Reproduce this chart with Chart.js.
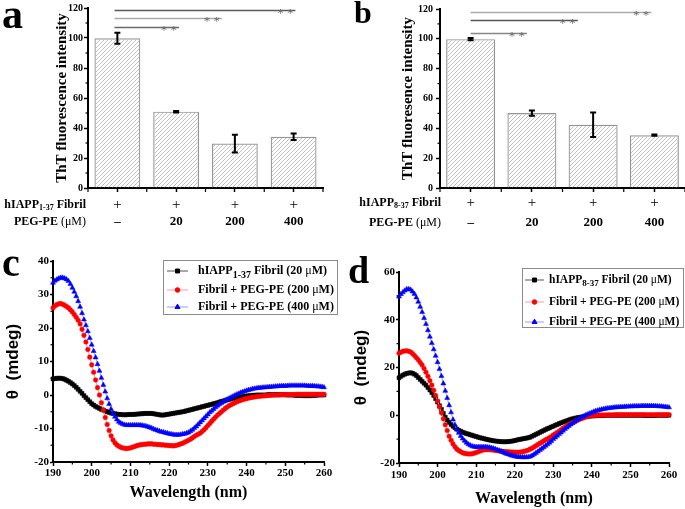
<!DOCTYPE html>
<html>
<head>
<meta charset="utf-8">
<script src="https://cdn.jsdelivr.net/npm/chart.js@4.4.0/dist/chart.umd.min.js"></script>
<style>
	body { margin: 0; background: #fff; }
	#fig { position: relative; width: 685px; height: 509px; overflow: hidden; }
	canvas { position: absolute; }
	.lbl { position: absolute; font-family: 'Liberation Serif', serif; font-weight: bold; line-height: 1; color: #000; }
</style>
</head>
<body>
<div id="fig">
	<canvas id="ca" width="340" height="235" style="left:0;top:0;width:340px;height:235px"></canvas>
	<canvas id="cb" width="345" height="235" style="left:340px;top:0;width:345px;height:235px"></canvas>
	<canvas id="cc" width="340" height="274" style="left:0;top:235px;width:340px;height:274px"></canvas>
	<canvas id="cd" width="345" height="274" style="left:340px;top:235px;width:345px;height:274px"></canvas>
	<div class="lbl" style="left:2px;top:-7px;font-size:42px">a</div>
	<div class="lbl" style="left:354px;top:-4px;font-size:32px">b</div>
	<div class="lbl" style="left:2px;top:243px;font-size:40px">c</div>
	<div class="lbl" style="left:348px;top:251px;font-size:38px">d</div>
</div>
<script>
(() => {
	'use strict'

	const SERIF = "'Liberation Serif', 'Times New Roman', serif"
	const SANS = "'Liberation Sans', Arial, sans-serif"

	// Bar panels (ThT)
	const pegLabels = ['–', '20', '200', '400']
	const fibrilRow = ['+', '+', '+', '+']
	const aValues = [99.8, 50.9, 29.6, 34.2]
	const aErrors = [3.7, 0.5, 5.9, 2.2]
	const bValues = [99.8, 50.2, 42.4, 35.4]
	const bErrors = [0.8, 1.7, 8.2, 0.4]
	// significance brackets: level, from category, to category
	const aSig = [[118.7, -0.05, 3.03], [113.3, -0.05, 1.78], [107.3, -0.05, 1.05]]
	const bSig = [[118.0, 0, 2.95], [112.7, 0, 1.75], [104.1, 0, 0.92]]

	// CD panels, 0.5 nm steps
	const wavelengths = [
		190, 190.5, 191, 191.5, 192, 192.5, 193, 193.5, 194, 194.5,
		195, 195.5, 196, 196.5, 197, 197.5, 198, 198.5, 199, 199.5,
		200, 200.5, 201, 201.5, 202, 202.5, 203, 203.5, 204, 204.5,
		205, 205.5, 206, 206.5, 207, 207.5, 208, 208.5, 209, 209.5,
		210, 210.5, 211, 211.5, 212, 212.5, 213, 213.5, 214, 214.5,
		215, 215.5, 216, 216.5, 217, 217.5, 218, 218.5, 219, 219.5,
		220, 220.5, 221, 221.5, 222, 222.5, 223, 223.5, 224, 224.5,
		225, 225.5, 226, 226.5, 227, 227.5, 228, 228.5, 229, 229.5,
		230, 230.5, 231, 231.5, 232, 232.5, 233, 233.5, 234, 234.5,
		235, 235.5, 236, 236.5, 237, 237.5, 238, 238.5, 239, 239.5,
		240, 240.5, 241, 241.5, 242, 242.5, 243, 243.5, 244, 244.5,
		245, 245.5, 246, 246.5, 247, 247.5, 248, 248.5, 249, 249.5,
		250, 250.5, 251, 251.5, 252, 252.5, 253, 253.5, 254, 254.5,
		255, 255.5, 256, 256.5, 257, 257.5, 258, 258.5, 259, 259.5,
		260]
	const cBlack = [
		4.8, 4.9, 5.0, 5.0, 5.0, 4.9, 4.7, 4.4, 4.1, 3.7,
		3.3, 2.8, 2.3, 1.7, 1.1, 0.5, -0.2, -0.8, -1.4, -2.0,
		-2.6, -3.0, -3.4, -3.7, -4.0, -4.3, -4.5, -4.8, -5.0, -5.2,
		-5.4, -5.5, -5.6, -5.7, -5.8, -5.8, -5.9, -5.9, -5.9, -5.8,
		-5.8, -5.8, -5.8, -5.7, -5.7, -5.6, -5.6, -5.5, -5.5, -5.5,
		-5.5, -5.5, -5.6, -5.7, -5.8, -5.9, -6.0, -6.0, -5.9, -5.8,
		-5.7, -5.6, -5.5, -5.4, -5.3, -5.2, -5.1, -5.0, -4.9, -4.7,
		-4.6, -4.4, -4.3, -4.1, -4.0, -3.8, -3.7, -3.5, -3.4, -3.2,
		-3.1, -2.9, -2.8, -2.6, -2.5, -2.3, -2.1, -1.9, -1.8, -1.6,
		-1.5, -1.3, -1.2, -1.0, -0.9, -0.8, -0.7, -0.6, -0.5, -0.4,
		-0.3, -0.2, -0.2, -0.1, -0.1, 0.0, 0.0, 0.0, 0.0, 0.0,
		0.0, 0.1, 0.1, 0.1, 0.1, 0.1, 0.1, 0.1, 0.1, 0.1,
		0.1, 0.0, 0.0, 0.0, 0.0, -0.1, -0.1, -0.1, -0.1, -0.2,
		-0.2, -0.2, -0.2, -0.2, -0.1, -0.1, -0.1, 0.0, 0.0, 0.0,
		0.0]
	const cRed = [
		26.0, 26.6, 27.0, 27.2, 27.3, 27.1, 26.8, 26.4, 26.0, 25.4,
		24.8, 24.0, 23.2, 22.3, 21.2, 19.6, 17.8, 15.8, 13.6, 11.3,
		9.0, 6.8, 4.5, 2.2, 0.0, -2.3, -4.5, -6.7, -8.8, -10.6,
		-12.2, -13.4, -14.3, -14.9, -15.3, -15.6, -15.8, -15.9, -16.0, -15.9,
		-15.8, -15.6, -15.4, -15.2, -15.0, -14.9, -14.8, -14.7, -14.7, -14.6,
		-14.6, -14.6, -14.7, -14.7, -14.8, -14.8, -14.9, -14.9, -15.0, -15.0,
		-15.1, -15.1, -15.2, -15.1, -15.0, -14.8, -14.6, -14.4, -14.1, -13.8,
		-13.5, -13.2, -12.8, -12.4, -12.0, -11.7, -11.4, -10.9, -10.4, -9.8,
		-9.1, -8.5, -7.8, -7.2, -6.6, -6.0, -5.5, -5.0, -4.5, -4.0,
		-3.6, -3.2, -2.9, -2.6, -2.3, -2.0, -1.8, -1.6, -1.4, -1.2,
		-1.1, -0.9, -0.8, -0.7, -0.6, -0.5, -0.4, -0.35, -0.3, -0.25,
		-0.2, -0.15, -0.1, -0.05, 0.0, 0.0, 0.0, 0.05, 0.1, 0.1,
		0.1, 0.1, 0.1, 0.1, 0.1, 0.15, 0.2, 0.2, 0.2, 0.2,
		0.2, 0.2, 0.2, 0.2, 0.2, 0.2, 0.2, 0.2, 0.2, 0.2,
		0.2]
	const cBlue = [
		33.5, 34.1, 34.5, 34.8, 35.0, 35.0, 34.8, 34.5, 34.0, 33.1,
		32.0, 30.8, 29.5, 28.0, 26.3, 24.4, 22.5, 20.8, 19.0, 17.0,
		15.0, 13.1, 11.2, 9.2, 7.2, 5.1, 3.0, 1.0, -1.0, -2.7,
		-4.2, -5.5, -6.5, -7.3, -8.0, -8.4, -8.7, -8.9, -9.0, -9.0,
		-9.0, -9.0, -9.0, -9.0, -9.0, -9.0, -9.1, -9.2, -9.3, -9.5,
		-9.7, -9.9, -10.2, -10.4, -10.6, -10.8, -11.0, -11.1, -11.3, -11.4,
		-11.6, -11.7, -11.8, -11.9, -11.9, -11.9, -11.8, -11.7, -11.6, -11.4,
		-11.2, -10.8, -10.4, -9.9, -9.4, -8.8, -8.2, -7.6, -7.0, -6.4,
		-5.8, -5.2, -4.7, -4.2, -3.7, -3.2, -2.8, -2.4, -2.0, -1.6,
		-1.3, -1.0, -0.7, -0.4, -0.1, 0.2, 0.4, 0.7, 0.9, 1.1,
		1.3, 1.5, 1.6, 1.8, 1.9, 2.0, 2.1, 2.15, 2.2, 2.25,
		2.3, 2.35, 2.4, 2.45, 2.5, 2.55, 2.6, 2.65, 2.7, 2.7,
		2.7, 2.75, 2.8, 2.8, 2.8, 2.8, 2.8, 2.8, 2.8, 2.8,
		2.8, 2.75, 2.7, 2.7, 2.7, 2.65, 2.6, 2.55, 2.5, 2.4,
		2.3]
	const dBlack = [
		15.7, 16.3, 16.8, 17.2, 17.5, 17.7, 17.8, 17.6, 17.2, 16.6,
		15.8, 15.0, 14.2, 13.4, 12.6, 11.6, 10.6, 9.5, 8.3, 6.9,
		5.5, 4.0, 2.5, 0.8, -0.8, -2.0, -3.0, -3.9, -4.6, -5.2,
		-5.8, -6.3, -6.7, -7.1, -7.4, -7.7, -7.9, -8.2, -8.4, -8.7,
		-8.9, -9.2, -9.4, -9.6, -9.8, -10.0, -10.2, -10.4, -10.5, -10.7,
		-10.8, -10.9, -11.0, -11.05, -11.1, -11.1, -11.1, -11.0, -10.9, -10.8,
		-10.6, -10.4, -10.2, -10.05, -9.9, -9.75, -9.6, -9.4, -9.2, -8.8,
		-8.4, -8.0, -7.6, -7.2, -6.8, -6.4, -6.0, -5.6, -5.3, -4.9,
		-4.6, -4.2, -3.9, -3.5, -3.2, -2.9, -2.6, -2.3, -2.0, -1.7,
		-1.5, -1.3, -1.1, -0.95, -0.8, -0.7, -0.6, -0.5, -0.4, -0.35,
		-0.3, -0.25, -0.2, -0.15, -0.1, -0.1, -0.1, -0.05, 0.0, 0.0,
		0.0, 0.0, 0.0, 0.0, 0.0, 0.0, 0.0, 0.0, 0.0, 0.0,
		0.0, 0.0, 0.0, 0.0, 0.0, 0.0, 0.0, -0.05, -0.1, -0.1,
		-0.1, -0.1, -0.1, -0.05, 0.0, 0.0, 0.0, 0.0, 0.0, 0.0,
		0.0]
	const dRed = [
		26.0, 26.4, 26.8, 26.9, 27.0, 26.8, 26.5, 25.8, 25.0, 24.1,
		23.2, 22.1, 21.0, 19.6, 18.0, 16.3, 14.5, 12.6, 10.5, 8.3,
		6.0, 3.5, 1.0, -1.5, -4.0, -6.4, -8.8, -10.5, -12.0, -13.2,
		-14.2, -14.8, -15.3, -15.7, -16.0, -16.1, -16.2, -16.2, -16.1, -15.9,
		-15.6, -15.3, -15.0, -14.7, -14.5, -14.4, -14.4, -14.4, -14.5, -14.6,
		-14.7, -14.85, -15.0, -15.1, -15.2, -15.25, -15.3, -15.35, -15.4, -15.45,
		-15.5, -15.5, -15.5, -15.4, -15.3, -15.1, -14.9, -14.6, -14.2, -13.8,
		-13.3, -12.8, -12.3, -11.8, -11.3, -10.8, -10.3, -9.9, -9.4, -8.9,
		-8.3, -7.8, -7.2, -6.7, -6.1, -5.5, -5.0, -4.5, -4.0, -3.5,
		-3.1, -2.7, -2.3, -1.9, -1.6, -1.3, -1.0, -0.7, -0.5, -0.35,
		-0.2, -0.1, 0.0, 0.05, 0.1, 0.1, 0.1, 0.1, 0.1, 0.1,
		0.1, 0.1, 0.15, 0.2, 0.2, 0.2, 0.2, 0.2, 0.2, 0.2,
		0.2, 0.2, 0.2, 0.2, 0.2, 0.2, 0.2, 0.2, 0.2, 0.2,
		0.2, 0.2, 0.2, 0.2, 0.2, 0.2, 0.2, 0.2, 0.2, 0.2,
		0.2]
	const dBlue = [
		49.7, 50.7, 51.5, 52.2, 52.8, 52.8, 52.6, 51.8, 50.8, 49.3,
		47.5, 45.4, 43.2, 40.7, 38.2, 35.6, 32.9, 30.2, 27.6, 24.9,
		22.2, 19.3, 16.4, 13.3, 10.2, 7.2, 4.2, 1.2, -1.8, -4.0,
		-6.0, -7.4, -8.7, -9.8, -10.7, -11.5, -12.2, -12.6, -13.0, -13.2,
		-13.3, -13.3, -13.3, -13.3, -13.3, -13.3, -13.4, -13.5, -13.7, -13.9,
		-14.2, -14.5, -14.8, -15.1, -15.5, -15.9, -16.2, -16.5, -16.8, -17.0,
		-17.2, -17.4, -17.5, -17.55, -17.6, -17.6, -17.6, -17.5, -17.3, -16.9,
		-16.4, -15.8, -15.2, -14.6, -14.0, -13.4, -12.8, -12.2, -11.5, -10.8,
		-10.0, -9.3, -8.6, -7.9, -7.2, -6.5, -5.8, -5.2, -4.5, -3.9,
		-3.3, -2.7, -2.2, -1.7, -1.2, -0.7, -0.3, 0.1, 0.5, 0.8,
		1.1, 1.5, 1.8, 2.0, 2.2, 2.4, 2.6, 2.75, 2.9, 3.0,
		3.1, 3.2, 3.3, 3.35, 3.4, 3.45, 3.5, 3.55, 3.6, 3.65,
		3.7, 3.75, 3.8, 3.8, 3.8, 3.85, 3.9, 3.9, 3.9, 3.9,
		3.9, 3.9, 3.9, 3.85, 3.8, 3.75, 3.7, 3.6, 3.5, 3.4,
		3.3]

	// ---- helpers ----
	// parts: [text, kind] kind 0 bold, 1 bold subscript, 2 regular
	function partFont(kind, size, sub) {
		const f = kind === 1 ? Math.round(size * sub) : size
		return (kind === 2 ? '' : 'bold ') + f + 'px ' + SERIF
	}
	function richWidth(ctx, parts, size, sub) {
		let w = 0
		parts.forEach(([t, k]) => { ctx.font = partFont(k, size, sub); w += ctx.measureText(t).width })
		return w
	}
	function drawRich(ctx, parts, x, y, size, sub, drop) {
		parts.forEach(([t, k]) => {
			ctx.font = partFont(k, size, sub)
			ctx.fillText(t, x, y + (k === 1 ? drop : 0))
			x += ctx.measureText(t).width
		})
	}
	function steps(from, to, step) {
		const out = []
		for (let v = from; v <= to + 1e-9; v += step) out.push(v)
		return out
	}

	const minorTicks = {
		id: 'minorTicks',
		afterDraw(chart, args, opts) {
			const ctx = chart.ctx
			ctx.save()
			ctx.strokeStyle = '#000'
			ctx.lineWidth = 1.2
			Object.keys(opts.at || {}).forEach(id => {
				const s = chart.scales[id]
				const len = opts.len[id]
				opts.at[id].forEach(v => {
					const p = s.getPixelForValue(v)
					ctx.beginPath()
					if (s.isHorizontal()) { ctx.moveTo(p, s.top); ctx.lineTo(p, s.top + len) }
					else { ctx.moveTo(s.right, p); ctx.lineTo(s.right - len, p) }
					ctx.stroke()
				})
			})
			ctx.restore()
		}
	}

	const errorBars = {
		id: 'errorBars',
		afterDatasetsDraw(chart) {
			const ctx = chart.ctx
			const y = chart.scales.y
			ctx.save()
			ctx.strokeStyle = '#000'
			ctx.lineWidth = 2
			chart.data.datasets.forEach((ds, di) => {
				if (!ds.errors) return
				chart.getDatasetMeta(di).data.forEach((bar, i) => {
					const hi = y.getPixelForValue(ds.data[i] + ds.errors[i])
					const lo = y.getPixelForValue(ds.data[i] - ds.errors[i])
					ctx.beginPath()
					ctx.moveTo(bar.x, hi); ctx.lineTo(bar.x, lo)
					ctx.moveTo(bar.x - 3, hi); ctx.lineTo(bar.x + 3, hi)
					ctx.moveTo(bar.x - 3, lo); ctx.lineTo(bar.x + 3, lo)
					ctx.stroke()
				})
			})
			ctx.restore()
		}
	}

	const sigLines = {
		id: 'sigLines',
		afterDraw(chart, args, opts) {
			const ctx = chart.ctx
			const {x, y} = chart.scales
			ctx.save()
			ctx.lineWidth = 1.3
			ctx.font = '13px ' + SERIF
			ctx.textAlign = 'right'
			ctx.textBaseline = 'alphabetic'
			opts.lines.forEach(([lvl, x0, x1], i) => {
				const py = Math.round(y.getPixelForValue(lvl)) + 0.5
				const p1 = x.getPixelForValue(x1)
				ctx.strokeStyle = opts.colors[i]
				ctx.beginPath()
				ctx.moveTo(x.getPixelForValue(x0), py)
				ctx.lineTo(p1, py)
				ctx.stroke()
				ctx.fillStyle = '#6a6a6a'
				ctx.fillText('* *', p1 - 2, py + 6)
			})
			ctx.restore()
		}
	}

	const rowText = {
		id: 'rowText',
		afterDraw(chart, args, opts) {
			const ctx = chart.ctx
			const x = chart.scales.x
			ctx.save()
			ctx.fillStyle = '#000'
			ctx.textBaseline = 'middle'
			opts.rows.forEach(row => {
				ctx.textAlign = 'left'
				const w = richWidth(ctx, row.parts, 12, 0.7)
				drawRich(ctx, row.parts, opts.right - w, row.y, 12, 0.7, 3)
				ctx.textAlign = 'center'
				row.cells.forEach((c, i) => {
					ctx.font = c === '+' ? '15px ' + SERIF : 'bold 13px ' + SERIF
					ctx.fillText(c, x.getPixelForValue(i), row.y)
				})
			})
			ctx.restore()
		}
	}

	const boxLegend = {
		id: 'boxLegend',
		afterDraw(chart, args, opts) {
			const ctx = chart.ctx
			const b = opts.box
			ctx.save()
			ctx.strokeStyle = '#8a8a8a'
			ctx.lineWidth = 1
			ctx.strokeRect(b[0] + 0.5, b[1] + 0.5, b[2] - b[0], b[3] - b[1])
			ctx.textBaseline = 'middle'
			ctx.textAlign = 'left'
			chart.data.datasets.forEach((ds, i) => {
				const ey = opts.rows[i]
				ctx.strokeStyle = ds.borderColor
				ctx.lineWidth = 1
				ctx.beginPath()
				ctx.moveTo(opts.line[0], ey); ctx.lineTo(opts.line[1], ey)
				ctx.stroke()
				ctx.fillStyle = ds.pointBackgroundColor
				ctx.strokeStyle = ds.pointBackgroundColor
				Chart.helpers.drawPoint(ctx, {pointStyle: ds.pointStyle, radius: ds.pointRadius, rotation: 0, borderWidth: 0.5}, (opts.line[0] + opts.line[1]) / 2, ey)
				ctx.fillStyle = '#000'
				drawRich(ctx, ds.parts, opts.textX, ey, opts.size, 0.8, 4)
			})
			ctx.restore()
		}
	}

	function hatch(canvas) {
		const c = document.createElement('canvas')
		c.width = 4
		c.height = 4
		const g = c.getContext('2d')
		g.strokeStyle = '#c2c2c2'
		g.lineWidth = 1
		g.beginPath()
		g.moveTo(0, 4); g.lineTo(4, 0)
		g.moveTo(-1, 1); g.lineTo(1, -1)
		g.moveTo(3, 5); g.lineTo(5, 3)
		g.stroke()
		return canvas.getContext('2d').createPattern(c, 'repeat')
	}

	function barChart(id, values, errors, sig, sigColors, yTitle, lay, fibrilParts) {
		const el = document.getElementById(id)
		return new Chart(el, {
			type: 'bar',
			data: {
				labels: pegLabels,
				datasets: [{
					data: values,
					errors: errors,
					backgroundColor: hatch(el),
					borderColor: '#959595',
					borderWidth: 1.2,
					barPercentage: lay.barPct,
					categoryPercentage: 1
				}]
			},
			options: {
				responsive: false,
				animation: false,
				devicePixelRatio: 1,
				layout: { padding: { top: lay.top, right: lay.right, left: 0, bottom: 0 } },
				plugins: {
					legend: { display: false },
					tooltip: { enabled: false },
					minorTicks: {
						at: { x: [-0.5, 0.5, 1.5, 2.5, 3.5], y: steps(10, 110, 20) },
						len: { x: 4, y: 2.5 }
					},
					sigLines: { lines: sig, colors: sigColors },
					rowText: {
						right: lay.rowRight,
						rows: [
							{ parts: fibrilParts, y: lay.rowY[0], cells: fibrilRow },
							{ parts: [['PEG-PE ', 0], ['(μM)', 2]], y: lay.rowY[1], cells: pegLabels }
						]
					}
				},
				scales: {
					x: {
						grid: { drawOnChartArea: false, offset: false, tickLength: 4, tickWidth: 1.5, tickColor: '#000' },
						border: { color: '#000', width: 2 },
						ticks: { display: false },
						afterFit: s => { s.height = lay.xH }
					},
					y: {
						min: 0,
						max: 120,
						ticks: { stepSize: 20, color: '#000', padding: lay.tickPad, font: { family: SERIF, size: 10, weight: 'bold' } },
						grid: { drawOnChartArea: false, tickLength: 4, tickWidth: 1.5, tickColor: '#000' },
						border: { color: '#000', width: 2 },
						title: { display: true, text: yTitle, color: '#000', padding: { top: lay.titlePad, bottom: 0 }, font: { family: SERIF, size: 15, weight: 'bold' } },
						afterFit: s => { s.width = lay.yW }
					}
				}
			},
			plugins: [minorTicks, errorBars, sigLines, rowText]
		})
	}

	function series(vals, color, line, style, r, parts, order) {
		return {
			label: parts.map(p => p[0]).join(''),
			parts: parts,
			data: wavelengths.map((w, i) => ({ x: w, y: vals[i] })),
			borderColor: line,
			borderWidth: 1,
			pointStyle: style,
			pointRadius: r,
			pointBackgroundColor: color,
			pointBorderColor: color,
			pointBorderWidth: 0.5,
			clip: false,
			order: order
		}
	}

	function cdChart(id, sets, yMin, yMax, yStep, lay) {
		return new Chart(document.getElementById(id), {
			type: 'line',
			data: { datasets: sets },
			options: {
				responsive: false,
				animation: false,
				devicePixelRatio: 1,
				layout: { padding: { top: lay.top, right: lay.right, left: 0, bottom: 0 } },
				plugins: {
					legend: { display: false },
					tooltip: { enabled: false },
					minorTicks: {
						at: { x: steps(195, 255, 10), y: steps(yMin + yStep / 2, yMax, yStep) },
						len: { x: 2.5, y: 2.5 }
					},
					boxLegend: lay.legend
				},
				scales: {
					x: {
						type: 'linear',
						min: 190,
						max: 260,
						ticks: { stepSize: 10, color: '#000', padding: lay.xPad, font: { family: SERIF, size: 11, weight: 'bold' } },
						grid: { drawOnChartArea: false, tickLength: 4, tickWidth: 1.5, tickColor: '#000' },
						border: { color: '#000', width: 2 },
						title: { display: true, text: 'Wavelength (nm)', color: '#000', padding: { top: 0, bottom: lay.xTitlePad }, font: { family: SERIF, size: 16, weight: 'bold' } },
						afterFit: s => { s.height = lay.xH }
					},
					y: {
						min: yMin,
						max: yMax,
						ticks: { stepSize: yStep, color: '#000', padding: 1, font: { family: SERIF, size: 11, weight: 'bold' } },
						grid: { drawOnChartArea: false, tickLength: 3, tickWidth: 1.5, tickColor: '#000' },
						border: { color: '#000', width: 2 },
						title: { display: true, text: 'θ  (mdeg)', color: '#000', padding: { top: lay.yTitlePad, bottom: 0 }, font: { family: SANS, size: 17, weight: 'bold' } },
						afterFit: s => { s.width = lay.yW }
					}
				}
			},
			plugins: [minorTicks, boxLegend]
		})
	}

	barChart('ca', aValues, aErrors, aSig, ['#5a5a5a', '#aaaaaa', '#6a6a6a'], 'ThT fluorescence intensity',
		{ top: 8, right: 17, yW: 88, xH: 47, titlePad: 53, tickPad: 1, barPct: 0.78, rowRight: 86, rowY: [205, 222] },
		[['hIAPP', 0], ['1-37', 1], [' Fibril', 0]])
	barChart('cb', bValues, bErrors, bSig, ['#aaaaaa', '#555555', '#888888'], 'ThT fluoresence intensity',
		{ top: 7, right: 0, yW: 100, xH: 47, titlePad: 59, tickPad: 3, barPct: 0.8, rowRight: 101, rowY: [203, 223] },
		[['hIAPP', 0], ['8-37', 1], [' Fibril', 0]])

	cdChart('cc', [
		series(cBlack, '#000000', '#555555', 'rect', 2.8, [['hIAPP', 0], ['1-37', 1], [' Fibril (20 ', 0], ['μ', 2], ['M)', 0]], 3),
		series(cRed, '#ff0000', '#ff9a9a', 'circle', 2.3, [['Fibril + PEG-PE (200 ', 0], ['μ', 2], ['M)', 0]], 2),
		series(cBlue, '#0000ff', '#9a9aff', 'triangle', 2.9, [['Fibril + PEG-PE (400 ', 0], ['μ', 2], ['M)', 0]], 1)
	], -20, 40, 10, {
		top: 26, right: 16, yW: 53, xH: 47, xPad: 1, xTitlePad: 7, yTitlePad: 3,
		legend: { box: [163, 25, 337, 79], rows: [36, 55, 72], line: [167, 188], textX: 198, size: 12 }
	})
	cdChart('cd', [
		series(dBlack, '#000000', '#555555', 'rect', 2.8, [['hIAPP', 0], ['8-37', 1], [' Fibril (20 ', 0], ['μ', 2], ['M)', 0]], 3),
		series(dRed, '#ff0000', '#ff9a9a', 'circle', 2.3, [['Fibril + PEG-PE (200 ', 0], ['μ', 2], ['M)', 0]], 2),
		series(dBlue, '#0000ff', '#9a9aff', 'triangle', 2.9, [['Fibril + PEG-PE (400 ', 0], ['μ', 2], ['M)', 0]], 1)
	], -20, 60, 20, {
		top: 37, right: 16, yW: 59, xH: 46, xPad: 2, xTitlePad: 1, yTitlePad: 11,
		legend: { box: [182, 33, 343, 92], rows: [45, 67, 87], line: [185, 204], textX: 209, size: 11.5 }
	})
})()
</script>
</body>
</html>
